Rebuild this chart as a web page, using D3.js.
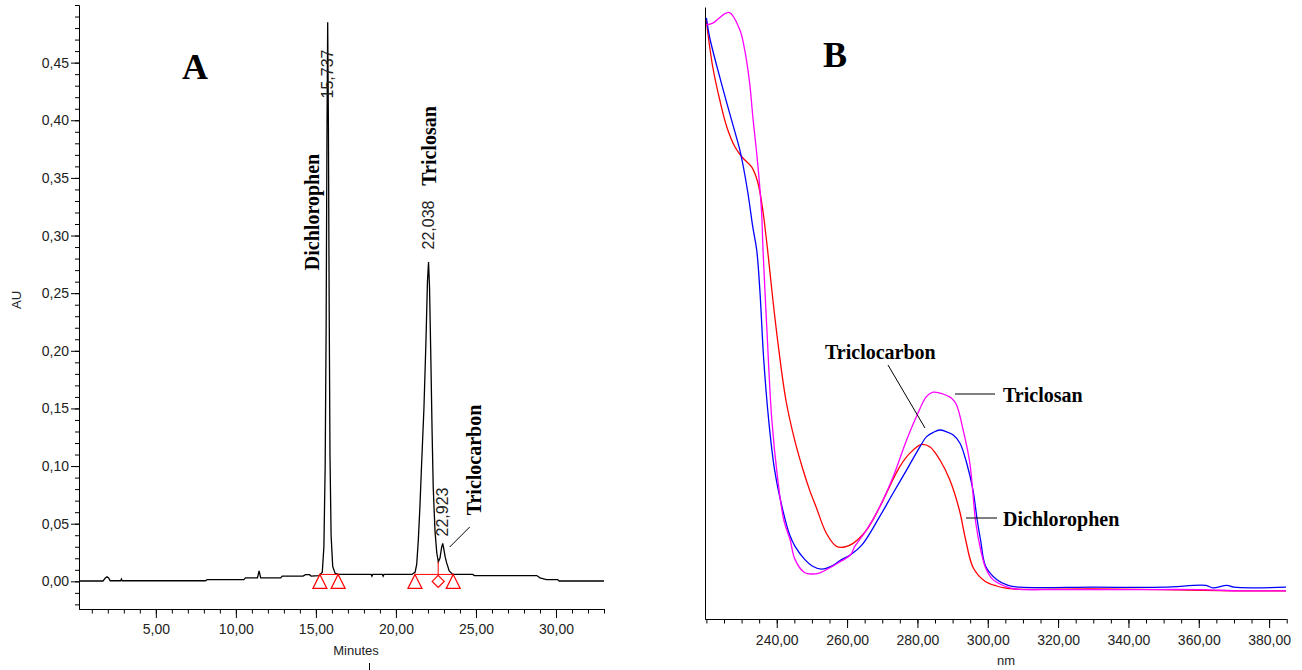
<!DOCTYPE html>
<html>
<head>
<meta charset="utf-8">
<script src="https://cdn.jsdelivr.net/npm/d3@7"></script>
<style>
  body { margin: 0; background: #fff; }
  .tick text { font-family: "Liberation Sans", Arial, sans-serif; font-size: 14px; fill: #222; }
  .domain, .tick line { stroke: #000; }
  .lab { font-family: "Liberation Serif", "Times New Roman", serif; font-weight: bold; font-size: 20px; fill: #000; }
  .num { font-family: "Liberation Sans", Arial, sans-serif; font-size: 16px; fill: #222; }
  .ax { font-family: "Liberation Sans", Arial, sans-serif; font-size: 13px; fill: #222; }
  .big { font-family: "Liberation Serif", "Times New Roman", serif; font-weight: bold; font-size: 36px; fill: #000; }
</style>
</head>
<body>
<script>
// ---- Panel A : chromatogram ----
var chromTime = [0.2, 1.7, 1.85, 1.95, 2.05, 2.15, 2.8, 2.85, 2.9, 8.1, 8.2, 10.5, 10.6, 11.35, 11.45, 11.55,
  12.8, 12.9, 14.2, 14.35, 14.6, 14.7, 15.2, 15.4, 15.5, 15.58, 15.64, 15.69, 15.737, 15.78, 15.83, 15.88,
  15.95, 16.05, 16.2, 16.4, 18.45, 18.5, 18.55, 19.15, 19.2, 19.25, 21.0, 21.2, 21.3, 21.4, 21.5, 21.6,
  21.75, 21.88, 21.97, 22.038, 22.1, 22.18, 22.26, 22.33, 22.44, 22.55, 22.65, 22.75, 22.85, 22.923,
  22.98, 23.08, 23.17, 23.33, 23.55, 24.8, 24.9, 28.8, 29.0, 29.4, 30.1, 30.2, 33.0];
var chromAU = [0.0003, 0.0003, 0.003, 0.004, 0.003, 0.0005, 0.0005, 0.002, 0.0005, 0.0005, 0.0015, 0.0015, 0.003, 0.003, 0.009, 0.003,
  0.003, 0.0046, 0.0046, 0.0058, 0.0058, 0.0046, 0.005, 0.008, 0.03, 0.10, 0.22, 0.38, 0.485, 0.40, 0.24, 0.11,
  0.04, 0.013, 0.007, 0.006, 0.006, 0.0045, 0.006, 0.006, 0.0045, 0.006, 0.006, 0.008, 0.015, 0.036, 0.065, 0.10,
  0.15, 0.21, 0.26, 0.277, 0.255, 0.195, 0.13, 0.082, 0.044, 0.025, 0.017, 0.02, 0.029, 0.033,
  0.029, 0.021, 0.016, 0.009, 0.006, 0.006, 0.005, 0.005, 0.003, 0.0015, 0.0015, 0.0003, 0.0003];

// integration marks
var markerTimes = [15.25, 16.39, 21.19, 23.58];
var markerAU = 0.006;
var diamondTime = 22.64;
var valleyAU = 0.017;
var baseStart = [15.25, 21.19];
var baseEnd = [16.39, 23.58];

var peakTimes = [15.737, 22.038, 22.923];
var peakLabels = ["15,737", "22,038", "22,923"];
var compoundsA = ["Dichlorophen", "Triclosan", "Triclocarbon"];

var aXTicks = [5, 10, 15, 20, 25, 30];
var aYTicks = [0, 0.05, 0.10, 0.15, 0.20, 0.25, 0.30, 0.35, 0.40, 0.45];

// ---- Panel B : UV spectra ----
var nmTriclosan = [220, 221.8, 226.4, 229.5, 230.9, 232.3, 233.2, 234.2, 235.0, 235.7, 236.1, 237.2, 238.6, 240.3,
  242.0, 243.8, 245.2, 248.0, 250.0, 252.3, 255.0, 257.9, 261.0, 262.2, 265.5, 269.3, 273.1, 276.9, 279.7,
  282.6, 284.5, 287.3, 289.7, 291.1, 293.0, 294.9, 296.6, 298.0, 299.4, 301.4, 304.7, 307.7, 320, 340, 360, 372, 384.8];
var auTriclosan = [0.990, 0.993, 1.011, 0.982, 0.948, 0.893, 0.837, 0.782, 0.732, 0.677, 0.615, 0.482, 0.332, 0.232,
  0.165, 0.132, 0.099, 0.077, 0.075, 0.077, 0.085, 0.095, 0.107, 0.121, 0.148, 0.187, 0.237, 0.298, 0.337,
  0.371, 0.378, 0.375, 0.368, 0.357, 0.315, 0.260, 0.160, 0.115, 0.085, 0.066, 0.055, 0.050, 0.049, 0.049, 0.049, 0.047, 0.047];

var nmTriclocarbon = [220, 220.9, 223.8, 226.6, 229.5, 230.3, 231.8, 233.2, 234.3, 235.2, 236.3, 237.7, 239.4, 241.7, 243.7,
  245.2, 248.0, 250.2, 252.8, 255.6, 257.9, 261.0, 264.3, 269.3, 273.1, 276.9, 280.7, 282.6, 284.5, 286.4,
  288.3, 290.1, 292.1, 294.0, 295.8, 297.0, 298.0, 299.4, 302.5, 305.8, 309.1, 330, 350, 362, 364, 368, 370, 384.8];
var auTriclocarbon = [1.002, 0.970, 0.903, 0.843, 0.782, 0.760, 0.710, 0.653, 0.615, 0.548, 0.432, 0.332, 0.248, 0.182, 0.140,
  0.121, 0.099, 0.088, 0.083, 0.088, 0.097, 0.107, 0.124, 0.171, 0.210, 0.248, 0.287, 0.304, 0.311, 0.315,
  0.312, 0.307, 0.293, 0.260, 0.215, 0.165, 0.130, 0.088, 0.066, 0.056, 0.053, 0.053, 0.053, 0.056, 0.052, 0.056, 0.053, 0.053];

var nmDichlorophen = [220, 220.4, 221.8, 223.8, 225.8, 228.1, 230.1, 232.9, 234.6, 235.9, 237.4, 238.9, 240.6,
  242.6, 245.1, 247.4, 249.4, 251.3, 254.1, 257.0, 259.3, 261.7, 265.5, 269.3, 272.1, 275.0, 277.8, 281.2,
  283.5, 286.4, 289.2, 292.0, 293.6, 295.9, 299.2, 302.5, 304.7, 307.7, 330, 350, 370, 384.8];
var auDichlorophen = [0.998, 0.977, 0.920, 0.865, 0.820, 0.787, 0.770, 0.753, 0.728, 0.687, 0.615, 0.532, 0.448,
  0.365, 0.298, 0.250, 0.214, 0.185, 0.143, 0.121, 0.120, 0.126, 0.148, 0.187, 0.221, 0.254, 0.276, 0.291,
  0.287, 0.265, 0.232, 0.180, 0.135, 0.085, 0.063, 0.055, 0.052, 0.050, 0.050, 0.049, 0.047, 0.047];

var bXTicks = [240, 260, 280, 300, 320, 340, 360, 380];

// comma decimal like the instrument software
var fmt = function(d) { return d3.format(".2f")(d).replace(".", ","); };

var svg = d3.select("body").append("svg")
  .attr("width", 1302)
  .attr("height", 670);

svg.append("rect").attr("width", 1302).attr("height", 670).attr("fill", "#fff");

// ===== Panel A =====
var xA = d3.scaleLinear().domain([0.2, 33.0]).range([79, 604]);
var yA = d3.scaleLinear().domain([-0.024, 0.5]).range([609, 5]);

// minor ticks first, then majors with labels
svg.append("g")
  .attr("transform", "translate(0,609)")
  .call(d3.axisBottom(xA).tickValues(d3.range(1, 34)).tickSize(4.5).tickSizeOuter(0).tickFormat(""));
svg.append("g")
  .attr("transform", "translate(0,609)")
  .call(d3.axisBottom(xA).tickValues(aXTicks).tickSize(9).tickSizeOuter(0).tickPadding(6).tickFormat(fmt));

svg.append("g")
  .attr("transform", "translate(79,0)")
  .call(d3.axisLeft(yA).tickValues(d3.range(-0.02, 0.505, 0.01)).tickSize(4).tickSizeOuter(0).tickFormat(""));
svg.append("g")
  .attr("transform", "translate(79,0)")
  .call(d3.axisLeft(yA).tickValues(aYTicks).tickSize(8).tickSizeOuter(0).tickPadding(2).tickFormat(fmt));

svg.append("text").attr("class", "ax")
  .attr("transform", "translate(16,300) rotate(-90)")
  .attr("text-anchor", "middle").attr("dominant-baseline", "central")
  .text("AU");
svg.append("text").attr("class", "ax")
  .attr("x", 356).attr("y", 655)
  .attr("text-anchor", "middle")
  .text("Minutes");
svg.append("line").attr("x1", 369.5).attr("x2", 369.5).attr("y1", 663).attr("y2", 670)
  .attr("stroke", "#000");

// chromatogram trace
var chromData = chromTime.map(function(t, i) { return { t: t, v: chromAU[i] }; });
var chromLine = d3.line().x(function(d) { return xA(d.t); }).y(function(d) { return yA(d.v); });
svg.append("path").datum(chromData)
  .attr("d", chromLine)
  .attr("fill", "none")
  .attr("stroke", "#000")
  .attr("stroke-width", 1.3);

// integration baselines + marks (red)
baseStart.forEach(function(s, i) {
  svg.append("line")
    .attr("x1", xA(s)).attr("x2", xA(baseEnd[i]))
    .attr("y1", yA(markerAU)).attr("y2", yA(markerAU))
    .attr("stroke", "#f00").attr("stroke-width", 1);
});
svg.append("line")
  .attr("x1", xA(diamondTime)).attr("x2", xA(diamondTime))
  .attr("y1", yA(markerAU)).attr("y2", yA(valleyAU))
  .attr("stroke", "#f00").attr("stroke-width", 1);

svg.selectAll(".tri").data(markerTimes).enter().append("path")
  .attr("class", "tri")
  .attr("d", function(t) {
    var x = xA(t), y = yA(markerAU);
    return "M" + x + "," + y + "L" + (x + 7) + "," + (y + 14) + "L" + (x - 7) + "," + (y + 14) + "Z";
  })
  .attr("fill", "none").attr("stroke", "#f00").attr("stroke-width", 1.2);

svg.append("path")
  .attr("d", function() {
    var x = xA(diamondTime), y = yA(markerAU) + 7;
    return "M" + x + "," + (y - 6) + "L" + (x + 6) + "," + y + "L" + x + "," + (y + 6) + "L" + (x - 6) + "," + y + "Z";
  })
  .attr("fill", "none").attr("stroke", "#f00").attr("stroke-width", 1.2);

// retention time labels and compound names
var rtY = [74, 225, 512];
peakLabels.forEach(function(lab, i) {
  svg.append("text").attr("class", "num")
    .attr("transform", "translate(" + xA(peakTimes[i]) + "," + rtY[i] + ") rotate(-90)")
    .attr("text-anchor", "middle").attr("dominant-baseline", "central")
    .text(lab);
});
svg.append("text").attr("class", "lab")
  .attr("transform", "translate(" + (xA(peakTimes[0]) - 16) + ",212) rotate(-90)")
  .attr("text-anchor", "middle").attr("dominant-baseline", "central")
  .text(compoundsA[0]);
svg.append("text").attr("class", "lab")
  .attr("transform", "translate(" + xA(peakTimes[1]) + ",146) rotate(-90)")
  .attr("text-anchor", "middle").attr("dominant-baseline", "central")
  .text(compoundsA[1]);
svg.append("text").attr("class", "lab")
  .attr("transform", "translate(" + (xA(peakTimes[2]) + 31) + ",460) rotate(-90)")
  .attr("text-anchor", "middle").attr("dominant-baseline", "central")
  .text(compoundsA[2]);
svg.append("line")
  .attr("x1", xA(peakTimes[2]) + 7).attr("y1", 547)
  .attr("x2", xA(peakTimes[2]) + 27).attr("y2", 527)
  .attr("stroke", "#000");

svg.append("text").attr("class", "big")
  .attr("x", 195).attr("y", 67)
  .attr("text-anchor", "middle").attr("dominant-baseline", "central")
  .text("A");

// ===== Panel B =====
var xB = d3.scaleLinear().domain([219.6, 384.8]).range([705, 1286]);
var yB = d3.scaleLinear().domain([0, 1.02]).range([619, 7]);

svg.append("g")
  .attr("transform", "translate(0,619)")
  .call(d3.axisBottom(xB).tickValues(d3.range(220, 386, 5)).tickSize(4.5).tickSizeOuter(0).tickFormat(""));
svg.append("g")
  .attr("transform", "translate(0,619)")
  .call(d3.axisBottom(xB).tickValues(bXTicks).tickSize(9).tickSizeOuter(0).tickPadding(7).tickFormat(fmt));
svg.append("g")
  .attr("transform", "translate(705,0)")
  .call(d3.axisLeft(yB).tickValues([]).tickSizeOuter(0))
  .select(".domain").attr("stroke", "#333");

svg.append("text").attr("class", "ax")
  .attr("x", 1006).attr("y", 665)
  .attr("text-anchor", "middle")
  .text("nm");

var specLine = d3.line()
  .x(function(d) { return xB(d[0]); })
  .y(function(d) { return yB(d[1]); })
  .curve(d3.curveCatmullRom.alpha(0.5));

var spectra = [
  { nm: nmDichlorophen, au: auDichlorophen, color: "#ff0000" },
  { nm: nmTriclocarbon, au: auTriclocarbon, color: "#0000ff" },
  { nm: nmTriclosan, au: auTriclosan, color: "#ff00ff" }
];
spectra.forEach(function(s) {
  svg.append("path")
    .datum(d3.zip(s.nm, s.au))
    .attr("d", specLine)
    .attr("fill", "none")
    .attr("stroke", s.color)
    .attr("stroke-width", 1.3);
});

// annotations
svg.append("text").attr("class", "lab")
  .attr("x", 825).attr("y", 352).attr("dominant-baseline", "central")
  .text("Triclocarbon");
svg.append("line").attr("x1", 888).attr("y1", 365).attr("x2", 925).attr("y2", 428).attr("stroke", "#000");

svg.append("text").attr("class", "lab")
  .attr("x", 1003).attr("y", 395).attr("dominant-baseline", "central")
  .text("Triclosan");
svg.append("line").attr("x1", 955).attr("y1", 394).attr("x2", 995).attr("y2", 394).attr("stroke", "#000");

svg.append("text").attr("class", "lab")
  .attr("x", 1003).attr("y", 519).attr("dominant-baseline", "central")
  .text("Dichlorophen");
svg.append("line").attr("x1", 966).attr("y1", 518).attr("x2", 997).attr("y2", 518).attr("stroke", "#000");

svg.append("text").attr("class", "big")
  .attr("x", 835).attr("y", 55)
  .attr("text-anchor", "middle").attr("dominant-baseline", "central")
  .text("B");
</script>
</body>
</html>
